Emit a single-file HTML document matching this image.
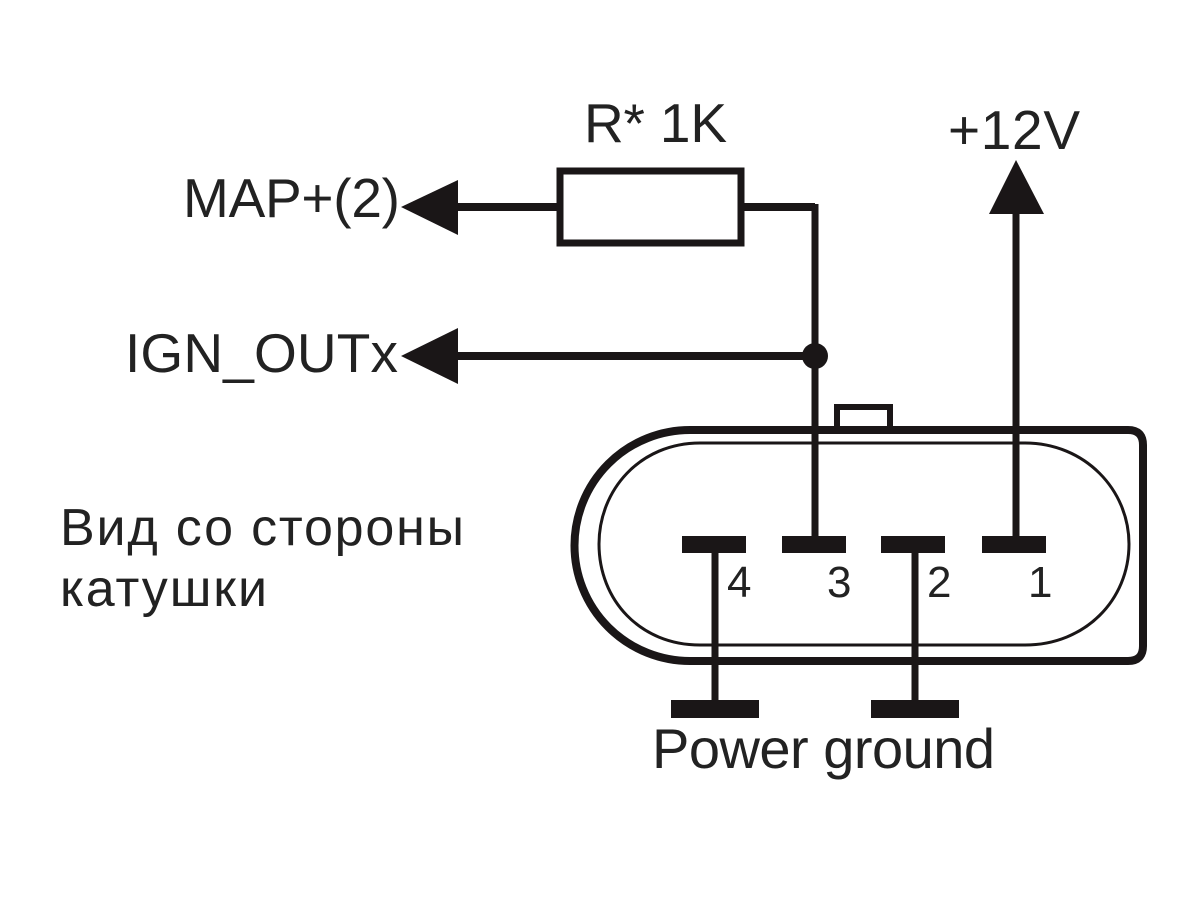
<!DOCTYPE html>
<html><head><meta charset="utf-8"><style>html,body{margin:0;padding:0;background:#fff}svg{display:block}text{font-family:"Liberation Sans",sans-serif;fill:#222}</style></head><body>
<svg width="1200" height="903" viewBox="0 0 1200 903" xmlns="http://www.w3.org/2000/svg">
<rect width="1200" height="903" fill="#fff"/>
<g fill="none" stroke="#1a1617">
<path d="M1128 430H690A115 115 0 0 0 690 661H1128Q1143 661 1143 646V445Q1143 430 1128 430Z" stroke-width="8"/>
<path d="M1010 443H700C640 443 599 490 599 544C599 600 640 645 700 645H1025C1085 645 1129 600 1129 544C1129 490 1085 443 1025 443Z" stroke-width="3"/>
<path d="M837 426V407H890V426" stroke-width="6"/>
<rect x="560" y="171" width="181" height="72" stroke-width="7"/>
<path d="M458 207H557M743 207H815" stroke-width="8"/>
<path d="M458 356H815" stroke-width="8"/>
<path d="M815 204V536M1016 210V536M715 553V702M915 553V702" stroke-width="7"/>
</g>
<g fill="#1a1617">
<circle cx="815" cy="356" r="13"/>
<path d="M401 207L458 180V235Z"/>
<path d="M401 356L458 328V384Z"/>
<path d="M1016 160L989 214H1044Z"/>
<rect x="682" y="536" width="64" height="17"/>
<rect x="782" y="536" width="64" height="17"/>
<rect x="881" y="536" width="64" height="17"/>
<rect x="982" y="536" width="64" height="17"/>
<rect x="671" y="700" width="88" height="18"/>
<rect x="871" y="700" width="88" height="18"/>
</g>
<text x="584" y="142" font-size="55" textLength="143">R* 1K</text>
<text x="948" y="149" font-size="55" textLength="132">+12V</text>
<text x="183" y="217" font-size="55" textLength="217">MAP+(2)</text>
<text x="125" y="372" font-size="55" textLength="273">IGN_OUTx</text>
<text x="60" y="545" font-size="52" textLength="404">Вид со стороны</text>
<text x="60" y="606" font-size="52" textLength="207">катушки</text>
<text x="727" y="597" font-size="44">4</text>
<text x="827" y="597" font-size="44">3</text>
<text x="927" y="597" font-size="44">2</text>
<text x="1028" y="597" font-size="44">1</text>
<text x="652" y="768" font-size="56" textLength="343">Power ground</text>
</svg>
</body></html>
